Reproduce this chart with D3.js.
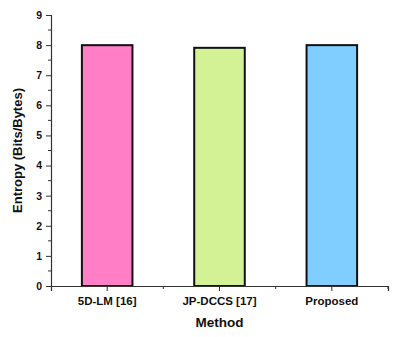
<!DOCTYPE html>
<html>
<head>
<meta charset="utf-8">
<script src="https://cdn.jsdelivr.net/npm/d3@7"></script>
<style>
  html, body { margin: 0; padding: 0; background: #fff; }
  svg { display: block; font-family: "Liberation Sans", Arial, sans-serif; }
</style>
</head>
<body>
<svg id="chart" width="393" height="337"></svg>
<script>
// Entropy per encryption method
const methods = ["5D-LM [16]", "JP-DCCS [17]", "Proposed"];
const entropy = [7.998, 7.91, 7.999];
const barColors = ["#FF7EC6", "#D3F295", "#80CEFF"];
const yTicks = [0, 1, 2, 3, 4, 5, 6, 7, 8, 9];

const svg = d3.select("#chart");
const margin = { left: 51, right: 5, top: 15, bottom: 51 };
const W = 393, H = 337;

const x = d3.scaleBand()
  .domain(methods)
  .range([margin.left, W - margin.right])
  .paddingInner(0.55)
  .paddingOuter(0.275);

const y = d3.scaleLinear().domain([0, 9]).range([H - margin.bottom, margin.top]);

// bars
svg.append("g").selectAll("rect")
  .data(methods)
  .join("rect")
  .attr("x", d => x(d))
  .attr("y", (d, i) => y(entropy[i]))
  .attr("width", x.bandwidth())
  .attr("height", (d, i) => y(0) - y(entropy[i]))
  .attr("fill", (d, i) => barColors[i])
  .attr("stroke", "#111")
  .attr("stroke-width", 2);

// y axis with major ticks and minor half-unit ticks
const yAxis = svg.append("g")
  .attr("transform", `translate(${margin.left},0)`)
  .call(d3.axisLeft(y).tickValues(yTicks).tickFormat(d3.format("d")).tickSize(5).tickPadding(4));
yAxis.selectAll(".minor")
  .data(yTicks.slice(0, -1).map(v => v + 0.5))
  .join("line")
  .attr("class", "minor")
  .attr("x1", 0).attr("x2", -3)
  .attr("y1", d => y(d)).attr("y2", d => y(d))
  .attr("stroke", "#333");

// x axis with category ticks and in-between minor ticks
const xAxis = svg.append("g")
  .attr("transform", `translate(0,${y(0)})`)
  .call(d3.axisBottom(x).tickSize(5).tickPadding(6));
const step = x.step();
xAxis.selectAll(".minor")
  .data(methods.map(m => x(m) + x.bandwidth() / 2 + step / 2))
  .join("line")
  .attr("class", "minor")
  .attr("x1", d => d).attr("x2", d => d)
  .attr("y1", 0).attr("y2", 3)
  .attr("stroke", "#333");

svg.selectAll(".domain").attr("stroke", "#333").attr("stroke-width", 1.2);
svg.selectAll(".tick line").attr("stroke", "#333");
svg.selectAll(".tick text")
  .attr("font-family", "Liberation Sans, Arial, sans-serif")
  .attr("font-weight", "bold")
  .attr("font-size", 10.5)
  .attr("fill", "#111");
xAxis.selectAll(".tick text").attr("font-size", 11.5);

// axis titles
svg.append("text")
  .attr("x", (margin.left + W - margin.right) / 2)
  .attr("y", 327)
  .attr("text-anchor", "middle")
  .attr("font-weight", "bold")
  .attr("font-size", 13.5)
  .attr("fill", "#111")
  .text("Method");

svg.append("text")
  .attr("transform", `translate(22,${(y(0) + y(9)) / 2}) rotate(-90)`)
  .attr("text-anchor", "middle")
  .attr("font-weight", "bold")
  .attr("font-size", 13)
  .attr("fill", "#111")
  .text("Entropy (Bits/Bytes)");
</script>
</body>
</html>
